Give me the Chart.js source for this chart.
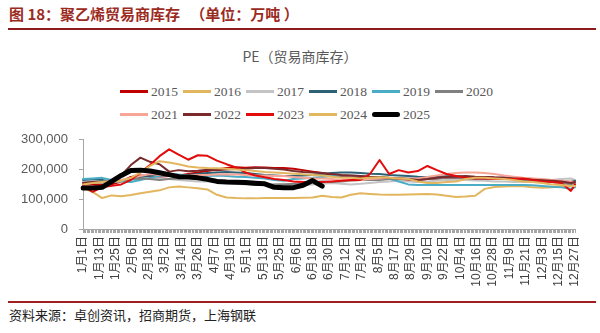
<!DOCTYPE html>
<html><head><meta charset="utf-8">
<script src="https://cdn.jsdelivr.net/npm/chart.js@4"></script>
<style>
body{margin:0;width:600px;height:333px;background:#fff;position:relative;overflow:hidden;font-family:"Noto Sans CJK SC",sans-serif}
#hdr{position:absolute;left:9px;top:4px;line-height:20px;font-size:15px;font-weight:bold;color:#9B2B1F;white-space:pre}
#rule1{position:absolute;left:8px;top:28px;width:588px;height:2px;background:#8E1B1B}
#ttl{position:absolute;left:0;width:600px;top:46px;line-height:20px;text-align:center;font-size:14px;color:#595959}
#legend{position:absolute;left:120px;top:80px;width:380px;display:flex;flex-wrap:wrap}
.li{display:flex;align-items:center;height:23px;margin-right:5px;font-family:"Liberation Serif",serif;font-size:13.5px;color:#595959}
.sw{width:28px;margin-right:3px}
#wrap{position:absolute;left:0;top:121px;width:600px;height:179px}
#wrap canvas{display:block}
#rule2{position:absolute;left:8px;top:301px;width:588px;height:2px;background:#A01E1E}
#src{position:absolute;left:9px;top:306px;line-height:18px;font-size:13px;color:#222}
</style></head>
<body>
<div id="hdr">图 18：聚乙烯贸易商库存   （单位：万吨 ）</div>
<div id="rule1"></div>
<div id="ttl">PE（贸易商库存）</div>
<div id="legend"></div>
<div id="wrap"><canvas id="c" width="600" height="179"></canvas></div>
<div id="rule2"></div>
<div id="src">资料来源：卓创资讯，招商期货，上海钢联</div>
<script>
// x-axis tick labels (shown every 12 days)
const tickLabels = ['1月1日','1月13日','1月25日','2月6日','2月18日','3月2日','3月14日','3月26日','4月7日','4月19日','5月1日','5月13日','5月25日','6月6日','6月18日','6月30日','7月12日','7月24日','8月5日','8月17日','8月29日','9月10日','9月22日','10月4日','10月16日','10月28日','11月9日','11月21日','12月3日','12月15日','12月27日'];
const dayCount = 361;      // daily categories, 1月1日 .. 12月27日
const labelEvery = 12;
// day-of-year index of each weekly observation
const weekDays = [0,7,14,21,28,35,42,49,56,63,70,77,84,91,98,105,112,119,126,133,140,147,154,161,168,175,182,189,196,203,210,217,224,231,238,245,252,259,266,273,280,287,294,301,308,315,322,329,336,343,350,357,360];
const yTicks = [0,50,100,150,200,250,300]; // thousands

// series values, in thousands of tonnes
const s2015 = [150,150,148,150,160,175,180,178,176,178,180,185,190,195,200,205,208,206,208,207,205,205,203,198,193,188,182,178,175,172,170,168,168,166,165,165,168,170,172,172,172,175,175,173,172,170,168,166,164,162,160,158,160];
const s2016 = [138,125,104,113,110,114,120,125,130,140,143,140,137,133,115,106,104,103,103,104,104,104,104,105,106,112,108,106,115,120,118,116,115,115,116,117,118,116,112,108,109,112,135,141,143,145,144,140,139,140,143,145,148];
const s2017 = [160,162,160,158,160,165,170,172,170,168,165,162,160,160,158,155,152,150,150,148,150,152,150,148,150,152,155,152,150,152,155,158,160,162,160,158,160,162,165,165,165,163,162,160,160,158,158,160,162,165,168,170,165];
const s2018 = [165,168,165,160,162,168,175,180,182,183,182,182,185,188,190,192,190,188,185,182,180,178,178,180,182,185,188,190,190,188,186,185,182,180,178,176,175,176,177,178,176,175,174,172,172,170,170,168,166,164,160,158,162];
const s2019 = [168,170,172,165,160,158,165,172,178,182,183,180,178,178,180,178,176,175,172,170,165,162,168,170,172,175,178,180,180,178,176,175,170,160,150,148,148,148,148,148,148,148,148,148,148,148,148,147,145,142,140,135,140];
const s2020 = [155,158,160,162,165,168,170,168,165,168,170,172,170,168,165,160,158,152,148,148,150,150,152,155,158,160,158,160,162,165,165,165,168,170,170,168,168,170,172,172,170,168,168,170,170,168,165,162,160,158,155,150,155];
const s2021 = [152,155,158,160,165,172,178,185,182,180,178,180,182,182,183,184,183,182,180,180,178,178,175,172,170,170,168,165,163,165,168,170,172,170,168,170,175,180,185,188,190,190,188,185,180,176,172,170,168,165,162,160,158];
const s2022 = [155,158,156,160,180,215,240,226,218,193,198,194,196,199,198,200,202,203,205,205,203,200,195,192,190,188,185,182,180,178,176,175,172,170,168,165,168,172,175,176,178,176,175,173,172,170,168,166,164,162,160,155,158];
const s2023 = [145,125,140,145,150,165,190,215,245,268,250,233,248,246,230,218,207,190,180,174,168,165,160,158,158,158,160,162,165,165,185,232,185,198,190,195,212,198,185,178,172,170,170,168,168,168,170,165,160,158,155,128,150];
const s2024 = [150,155,158,160,162,172,190,212,228,224,218,210,207,205,204,203,200,198,195,192,190,188,186,184,182,180,176,172,172,170,172,174,172,170,168,160,155,155,158,160,168,172,172,170,168,165,160,158,155,150,148,145,145];
const s2025 = [138,138,140,160,180,197,198,195,189,183,176,175,172,167,160,158,157,156,154,152,140,139,139,147,163,144];

const years = ['2015','2016','2017','2018','2019','2020','2021','2022','2023','2024','2025'];
const seriesList = [s2015,s2016,s2017,s2018,s2019,s2020,s2021,s2022,s2023,s2024,s2025];
const colors = ['#C00000','#E2B65E','#C4C4C4','#2E6176','#4BACC6','#808080','#F7A596','#7A2A2A','#E30B0B','#E3B660','#000000'];

function toDaily(vals){
  const arr = new Array(dayCount).fill(null);
  vals.forEach((v,k)=>{ arr[weekDays[k]] = v; });
  return arr;
}
const labels = Array.from({length: dayCount}, (_, i) => i);

const datasets = years.map((y, i) => ({
  label: y,
  data: toDaily(seriesList[i]),
  borderColor: colors[i],
  backgroundColor: colors[i],
  borderWidth: y === '2025' ? 5 : 2,
  borderCapStyle: 'round',
  borderJoinStyle: 'round',
  pointRadius: 0,
  spanGaps: true,
  tension: 0,
  order: -i
}));

const chart = new Chart(document.getElementById('c'), {
  type: 'line',
  data: { labels, datasets },
  options: {
    responsive: false,
    animation: false,
    devicePixelRatio: 1,
    layout: { padding: { top: 0, right: 25, bottom: 0, left: 0 } },
    plugins: { legend: { display: false }, title: { display: false }, tooltip: { enabled: false } },
    scales: {
      x: {
        type: 'category',
        offset: false,
        grid: { display: true, drawOnChartArea: false, drawTicks: true, tickLength: 4, color: '#A6A6A6', lineWidth: 1 },
        border: { display: true, color: '#A6A6A6', width: 1 },
        ticks: {
          autoSkip: false, maxRotation: 90, minRotation: 90, padding: 3,
          color: '#404040',
          font: { size: 12, family: '"Liberation Sans", Arial, "Noto Sans CJK SC"' },
          callback: (v, i) => i % labelEvery === 0 ? tickLabels[i / labelEvery] : ''
        },
        afterFit: s => { s.height = 71; }
      },
      y: {
        min: yTicks[0], max: yTicks[yTicks.length - 1],
        afterBuildTicks: s => { s.ticks = yTicks.map(v => ({ value: v })); },
        grid: { display: true, drawOnChartArea: false, drawTicks: true, tickLength: 4, color: '#A6A6A6' },
        border: { display: true, color: '#A6A6A6' },
        ticks: {
          padding: 11, color: '#595959',
          font: { size: 13, family: '"Liberation Sans", Arial' },
          callback: v => (v * 1000).toLocaleString('en-US')
        },
        afterFit: s => { s.width = 83; }
      }
    }
  }
});

// legend built from the chart's datasets
const lg = document.getElementById('legend');
chart.data.datasets.forEach(ds => {
  const item = document.createElement('div');
  item.className = 'li';
  const sw = document.createElement('span');
  sw.className = 'sw';
  sw.style.height = (ds.borderWidth >= 4 ? 5 : 3) + 'px';
  sw.style.background = ds.borderColor;
  if (ds.borderWidth >= 4) sw.style.borderRadius = '3px';
  const t = document.createElement('span');
  t.textContent = ds.label;
  item.appendChild(sw); item.appendChild(t);
  lg.appendChild(item);
});
</script>
</body></html>
